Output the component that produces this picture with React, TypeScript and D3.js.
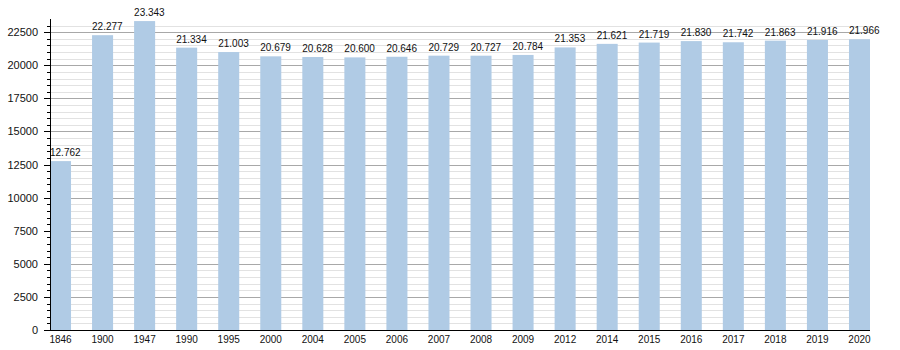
import React from "react";
import * as d3 from "d3";

const years = ["1846","1900","1947","1990","1995","2000","2004","2005","2006","2007","2008","2009","2012","2014","2015","2016","2017","2018","2019","2020"];
const population = [12762,22277,23343,21334,21003,20679,20628,20600,20646,20729,20727,20784,21353,21621,21719,21830,21742,21863,21916,21966];
const majorTicks = [0,2500,5000,7500,10000,12500,15000,17500,20000,22500];

const W = 900, H = 350;
const left = 50, right = 870, bottom = 330, top = 19;

export default function App() {
  const x = d3.scaleBand<string>().domain(years).range([left, right]).paddingInner(0.5).paddingOuter(0).align(0);
  const y = d3.scaleLinear().domain([0, 23500]).range([bottom, top]);
  const minor = d3.range(500, 23001, 500).filter(v => v % 2500 !== 0);
  const fmt = (v: number) => d3.format(",")(v).replace(/,/g, ".");
  const font = "'Liberation Sans', Arial, sans-serif";
  return (
    <svg width={W} height={H} style={{ position: "absolute", left: 0, top: 0, background: "#fff" }} fontFamily={font}>
      {minor.map(v => (
        <line key={"g" + v} x1={left} x2={right} y1={Math.round(y(v)) + 0.5} y2={Math.round(y(v)) + 0.5} stroke="#e2e2e2" strokeWidth={1} />
      ))}
      {majorTicks.filter(v => v > 0).map(v => (
        <line key={"G" + v} x1={left} x2={right} y1={Math.round(y(v)) + 0.5} y2={Math.round(y(v)) + 0.5} stroke="#a8a8a8" strokeWidth={1} />
      ))}
      {years.map((yr, i) => (
        <rect key={yr} x={x(yr)} y={y(population[i])} width={x.bandwidth()} height={bottom - y(population[i])} fill="#b0cbe5" />
      ))}
      {years.map((yr, i) => (
        <text key={"l" + yr} x={x(yr)} y={y(population[i]) - 5} fontSize={10} fill="#111">{fmt(population[i])}</text>
      ))}
      {minor.map(v => (
        <line key={"t" + v} x1={left - 3} x2={left} y1={Math.round(y(v)) + 0.5} y2={Math.round(y(v)) + 0.5} stroke="#000" />
      ))}
      {majorTicks.map(v => (
        <g key={"T" + v}>
          <line x1={left - 6} x2={left} y1={Math.round(y(v)) + 0.5} y2={Math.round(y(v)) + 0.5} stroke="#000" />
          <text x={left - 12} y={y(v) + 4} fontSize={11} textAnchor="end" fill="#111">{v}</text>
        </g>
      ))}
      <line x1={left + 0.5} x2={left + 0.5} y1={top} y2={bottom} stroke="#000" />
      <line x1={left} x2={right} y1={bottom + 0.5} y2={bottom + 0.5} stroke="#000" />
      {years.map(yr => (
        <text key={"x" + yr} x={(x(yr) as number) + x.bandwidth() / 2} y={bottom + 13} fontSize={10} textAnchor="middle" fill="#111">{yr}</text>
      ))}
    </svg>
  );
}
